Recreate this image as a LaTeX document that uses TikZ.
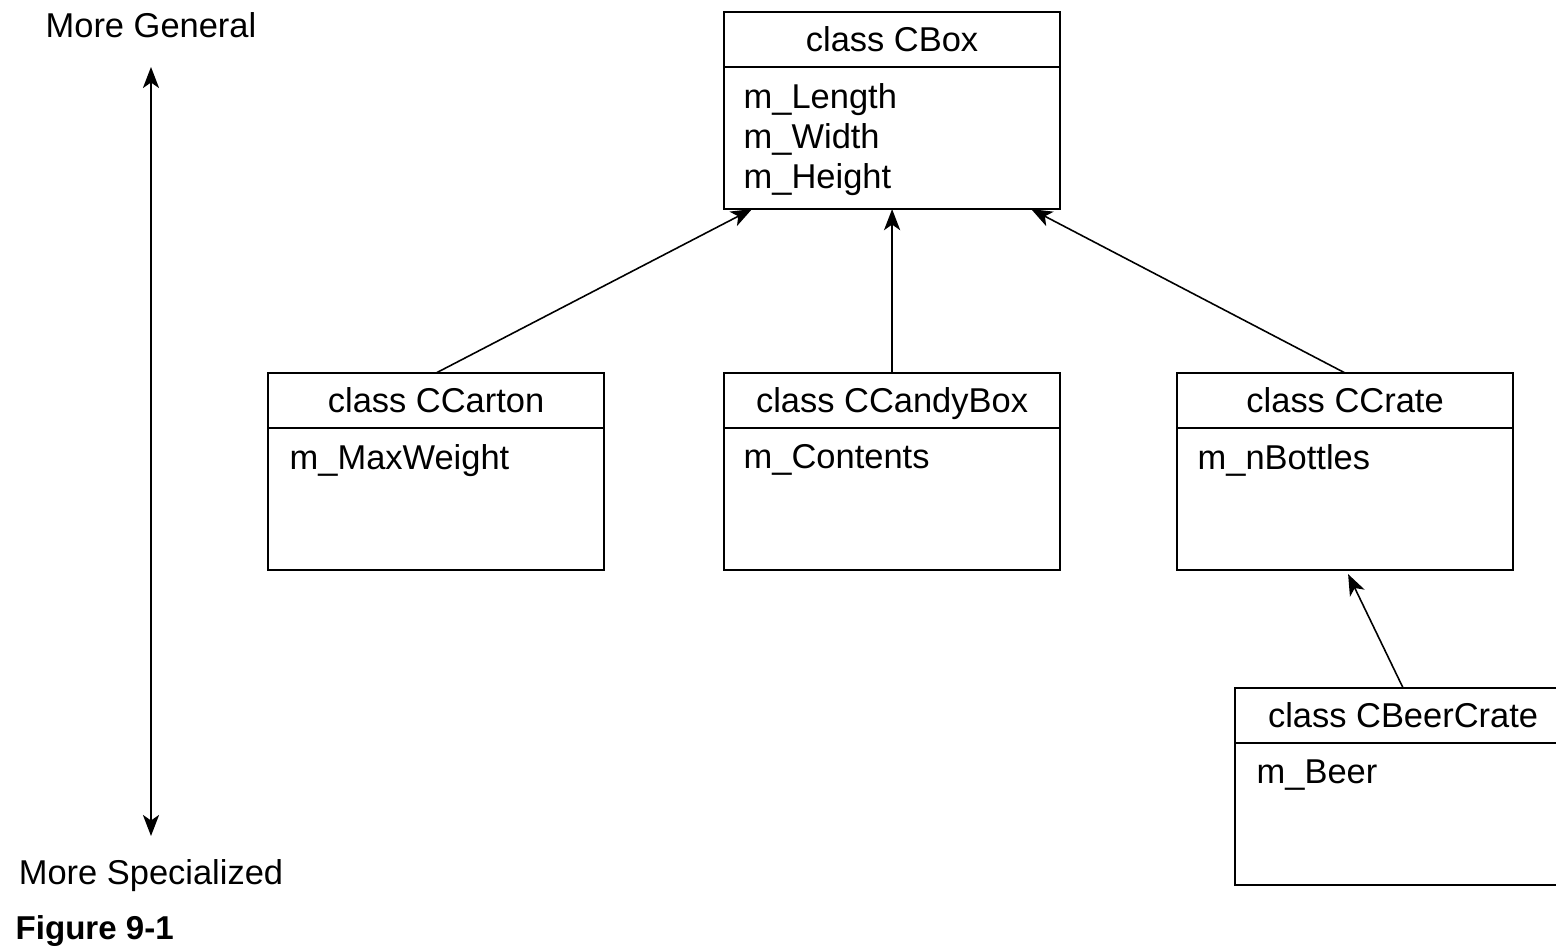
\documentclass[tikz,border=0pt]{standalone}
\usepackage{fontspec}
\setmainfont{Liberation Sans}
\usepackage{tikz}
\usetikzlibrary{calc,arrows.meta,positioning}

\begin{document}
\begin{tikzpicture}[x=0.01cm,y=-0.01cm,
  font=\fontsize{9.8pt}{11.4pt}\selectfont,
  classhead/.style={draw,line width=0.55pt,anchor=north west,minimum width=3.36cm,
    minimum height=0.55cm,inner sep=0pt,outer sep=0pt,text height=8pt,text depth=1.2pt},
  classbody/.style={draw,line width=0.55pt,minimum width=3.36cm,minimum height=1.42cm,
    inner sep=0pt,outer sep=0pt,below=0pt of #1},
  attr/.style={anchor=north west,align=left,inner sep=0pt},
  inherit/.style={line width=0.45pt,-{Stealth[length=6pt,width=4.6pt,inset=1.6pt]}},
  scalearrow/.style={line width=0.45pt,{Stealth[length=6pt,width=4.6pt,inset=1.6pt]}-{Stealth[length=6pt,width=4.6pt,inset=1.6pt]}}]
  \useasboundingbox (0,0) rectangle (1556,949);
  \clip (0,0) rectangle (1556,949);

  % base class
  \node[classhead] (cbox) at (724,12) {class CBox};
  \node[classbody=cbox] (cbox-body) {};
  \node[attr] (cbox-attr) at ($(cbox-body.north west)+(19,16)$) {m\_Length\\m\_Width\\m\_Height};

  % derived classes
  \node[classhead] (ccarton) at (268,373) {class CCarton};
  \node[classbody=ccarton] (ccarton-body) {};
  \node[attr] (ccarton-attr) at ($(ccarton-body.north west)+(21,16)$) {m\_MaxWeight};

  \node[classhead] (ccandy) at (724,373) {class CCandyBox};
  \node[classbody=ccandy] (ccandy-body) {};
  \node[attr] (ccandy-attr) at ($(ccandy-body.north west)+(19,16)$) {m\_Contents};

  \node[classhead] (ccrate) at (1177,373) {class CCrate};
  \node[classbody=ccrate] (ccrate-body) {};
  \node[attr] (ccrate-attr) at ($(ccrate-body.north west)+(20,16)$) {m\_nBottles};

  \node[classhead] (cbeer) at (1235,688) {class CBeerCrate};
  \node[classbody=cbeer] (cbeer-body) {};
  \node[attr] (cbeer-attr) at ($(cbeer-body.north west)+(21,16)$) {m\_Beer};

  \draw[inherit] (ccarton.north) -- ($(cbox-body.south west)+(28,0)$);
  \draw[inherit] (ccandy.north) -- (cbox-body.south);
  \draw[inherit] (ccrate.north) -- ($(cbox-body.south east)+(-29,0)$);
  \draw[inherit] (cbeer.north) -- ($(ccrate-body.south)+(3,4)$);

  % scale on the left
  \node (general) at (151,25) {More General};
  \node[anchor=base] (special) at (151,885) {More Specialized};
  \coordinate (scaletop) at (151,67);
  \coordinate (scalebottom) at (151,836);
  \draw[scalearrow] (scaletop) -- (scalebottom);

  \node[anchor=base west,inner sep=0pt,font=\fontsize{9.4pt}{11pt}\selectfont\bfseries]
    (caption) at (15,940) {Figure 9-1};
\end{tikzpicture}
\end{document}
